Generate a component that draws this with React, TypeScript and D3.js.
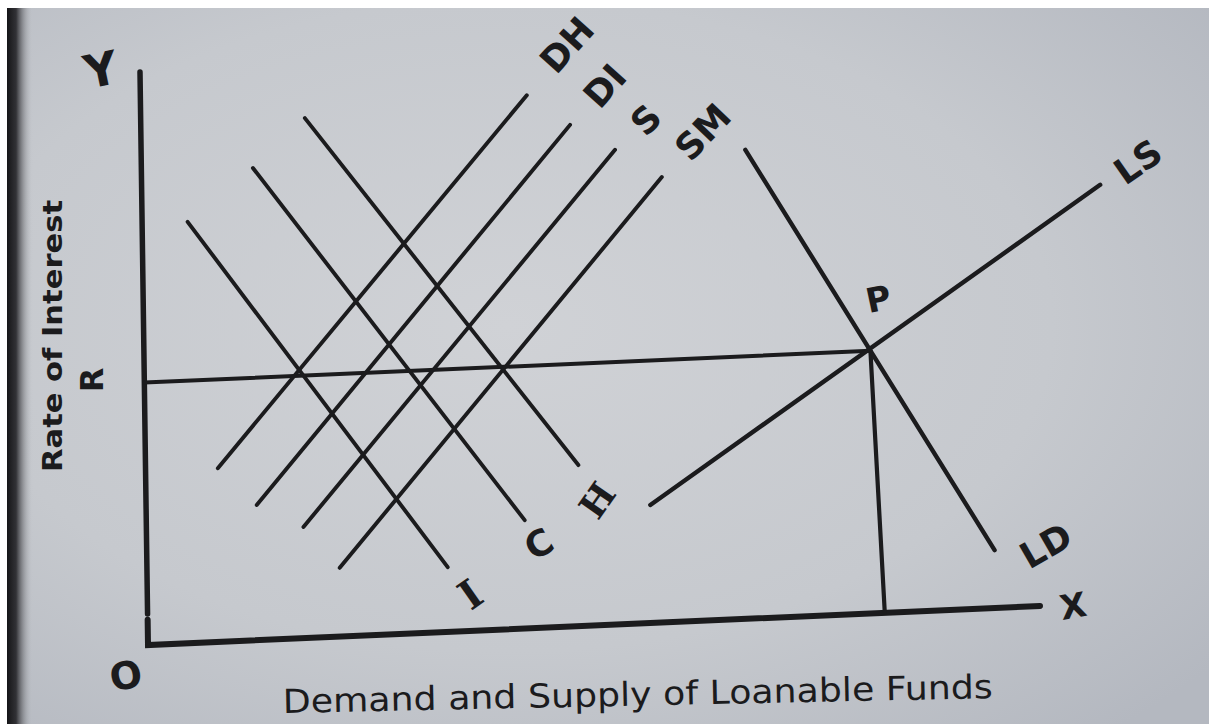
import React from 'react';
import * as d3 from 'd3';

// ---- Data (diagram units: quantity of loanable funds 0..100, rate of interest 0..100) ----
const curveNames = ['I', 'C', 'H', 'DH', 'DI', 'S', 'SM', 'LS', 'LD'];
const curveX0 = [5.1, 12.5, 18.4, 8.1, 12.4, 17.6, 21.6, 56.5, 67.7];
const curveY0 = [73.5, 82.4, 90.7, 30.3, 23.6, 19.4, 12.0, 20.6, 81.8];
const curveX1 = [33.7, 42.4, 48.5, 43.3, 48.1, 53.1, 58.3, 107.4, 95.0];
const curveY1 = [11.3, 18.9, 28.1, 93.0, 87.5, 82.8, 77.7, 73.0, 10.1];

const eqRate = 45.8; // R
const eqQty = 81.4; // P
const eqQtyBase = 82.6; // foot of the perpendicular from P
const axisMax = 100;
const yBreakLow = 4.4;
const yBreakHigh = 5.4;

const axisLabels = ['Y', 'X', 'O', 'R', 'P'];
const yTitle = 'Rate of Interest';
const caption = 'Demand and Supply of Loanable Funds';

// ---- Layout ----
const W = 1209;
const H = 724;
const origin = [148, 645];
const xDir = [892, -39];
const yDir = [-8, -573];

const xScale = d3.scaleLinear().domain([0, axisMax]).range([0, 1]);
const yScale = d3.scaleLinear().domain([0, axisMax]).range([0, 1]);

function project(x: number, y: number): [number, number] {
  const u = xScale(x);
  const v = yScale(y);
  return [origin[0] + u * xDir[0] + v * yDir[0], origin[1] + u * xDir[1] + v * yDir[1]];
}

const line = d3.line<[number, number]>().x((d) => project(d[0], d[1])[0]).y((d) => project(d[0], d[1])[1]);

const INK = '#1b1b1d';

const labelPos: Record<string, { x: number; y: number; r: number; size: number; serif?: boolean }> = {
  I: { x: 470, y: 594, r: -35, size: 40, serif: true },
  C: { x: 539, y: 544, r: -30, size: 36 },
  H: { x: 597, y: 500, r: -55, size: 36, serif: true },
  DH: { x: 567, y: 45, r: -48, size: 36 },
  DI: { x: 605, y: 86, r: -48, size: 36 },
  S: { x: 646, y: 120, r: -45, size: 36 },
  SM: { x: 703, y: 132, r: -46, size: 36 },
  LS: { x: 1138, y: 162, r: -35, size: 36 },
  LD: { x: 1046, y: 546, r: -30, size: 36 },
};

export default function App() {
  const curves = curveNames.map((n, i) => ({
    name: n,
    pts: [
      [curveX0[i], curveY0[i]],
      [curveX1[i], curveY1[i]],
    ] as [number, number][],
  }));

  const pP = project(eqQty, eqRate);

  return (
    <svg
      width={W}
      height={H}
      viewBox={`0 0 ${W} ${H}`}
      style={{ position: 'absolute', left: 0, top: 0, display: 'block' }}
    >
      <defs>
        <radialGradient id="paper" cx="0.42" cy="0.45" r="0.75">
          <stop offset="0" stopColor="#d0d2d6" />
          <stop offset="0.6" stopColor="#c6c9ce" />
          <stop offset="1" stopColor="#b4b8c0" />
        </radialGradient>
        <linearGradient id="edge" x1="0" x2="1" y1="0" y2="0">
          <stop offset="0" stopColor="#151517" stopOpacity="1" />
          <stop offset="0.35" stopColor="#2a2a2e" stopOpacity="0.95" />
          <stop offset="1" stopColor="#c4c7cc" stopOpacity="0" />
        </linearGradient>
      </defs>

      {/* paper */}
      <rect x={0} y={0} width={W} height={H} fill="url(#paper)" />
      <rect x={7} y={8} width={26} height={H - 8} fill="url(#edge)" />
      <rect x={0} y={0} width={W} height={8} fill="#ffffff" />
      <rect x={0} y={0} width={7} height={H} fill="#ffffff" />

      {/* axes */}
      <g stroke={INK} strokeLinecap="round" fill="none">
        <path d={line([[0, axisMax], [0, yBreakHigh]]) || ''} strokeWidth={5.5} />
        <path d={line([[0, yBreakLow], [0, 0], [axisMax, 0]]) || ''} strokeWidth={6} strokeLinejoin="miter" />
      </g>

      {/* interest rate line and perpendicular */}
      <g stroke={INK} strokeLinecap="round" fill="none">
        <path d={line([[0, eqRate], [eqQty, eqRate]]) || ''} strokeWidth={4} />
        <path d={line([[eqQty, eqRate], [eqQtyBase, 0]]) || ''} strokeWidth={4.2} />
      </g>

      {/* curves */}
      <g stroke={INK} strokeLinecap="round" fill="none">
        {curves.map((c) => (
          <path key={c.name} d={line(c.pts) || ''} strokeWidth={c.name === 'LS' || c.name === 'LD' ? 4.4 : 3.9} />
        ))}
      </g>

      {/* curve labels */}
      <g fill={INK}>
        {curveNames.map((n) => {
          const l = labelPos[n];
          return (
            <text
              key={n}
              x={l.x}
              y={l.y}
              transform={`rotate(${l.r} ${l.x} ${l.y})`}
              textAnchor="middle"
              dominantBaseline="central"
              fontFamily={l.serif ? "'DejaVu Serif', serif" : "'DejaVu Sans', sans-serif"}
              fontWeight="bold"
              fontSize={l.size}
            >
              {n}
            </text>
          );
        })}
      </g>

      {/* axis letters */}
      <g fill={INK} fontFamily="'DejaVu Sans', sans-serif" fontWeight="bold" textAnchor="middle" dominantBaseline="central">
        <text x={101} y={70} fontSize={46} transform="rotate(-12 101 70)">{axisLabels[0]}</text>
        <text x={1073} y={606} fontSize={34} transform="rotate(-10 1073 606)">{axisLabels[1]}</text>
        <text x={126} y={676} fontSize={38} transform="rotate(-10 126 676)">{axisLabels[2]}</text>
        <text x={92} y={380} fontSize={32} transform="rotate(-90 92 380)">{axisLabels[3]}</text>
        <text x={pP[0] + 8} y={pP[1] - 52} fontSize={34} transform={`rotate(-12 ${pP[0] + 8} ${pP[1] - 52})`}>{axisLabels[4]}</text>
      </g>

      {/* y title */}
      <text
        x={52}
        y={336}
        transform="rotate(-90 52 336)"
        textAnchor="middle"
        dominantBaseline="central"
        fontFamily="'DejaVu Sans', sans-serif"
        fontWeight="bold"
        fontSize={27}
        fill={INK}
        textLength={272}
        lengthAdjust="spacingAndGlyphs"
      >
        {yTitle}
      </text>

      {/* caption */}
      <text
        x={283}
        y={713}
        transform="rotate(-1.2 283 713)"
        fontFamily="'DejaVu Sans', sans-serif"
        fontSize={33}
        fill={INK}
        textLength={710}
        lengthAdjust="spacingAndGlyphs"
      >
        {caption}
      </text>
    </svg>
  );
}
